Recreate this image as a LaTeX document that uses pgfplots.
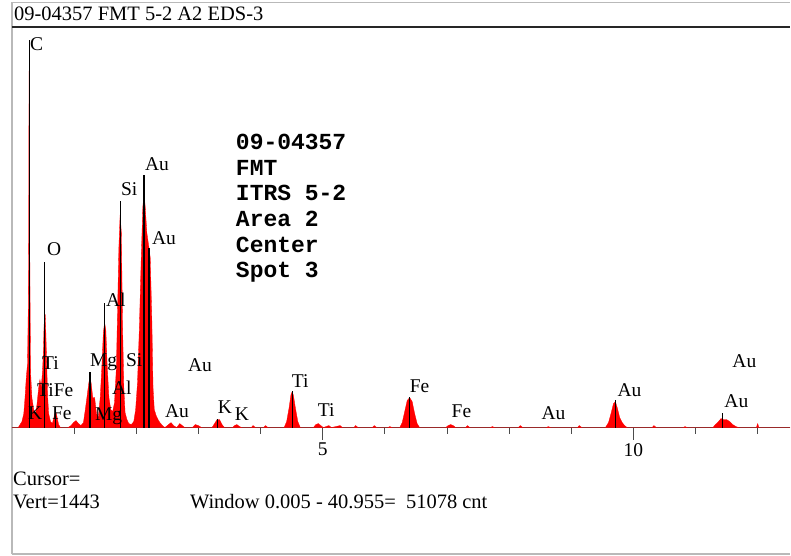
\documentclass[border=0pt]{standalone}
\usepackage{pgfplots}
\pgfplotsset{compat=1.18}
\usepackage{fontspec}
\setmainfont{Liberation Serif}
\newfontfamily\mono{Liberation Mono}
\newcommand\lab[3]{\node[anchor=base west,inner sep=0pt] at (#1,556-#2) {#3};}
\begin{document}
\begin{tikzpicture}[x=1pt,y=1pt]
\path (0,0) rectangle (791,556);
% frame
\draw[gray!55, line width=1.2pt] (12,1) -- (12,553.5) -- (791,553.5);
\draw[black!85, line width=1.6pt] (12,529) -- (791,529);
\draw[gray!55, line width=1.2pt] (12,1.5) -- (791,1.5);
\node[anchor=base west,inner sep=0pt] at (14,556-21) {\fontsize{20.5}{22}\selectfont 09-04357 FMT 5-2 A2 EDS-3};
% text block
\begingroup\mono\bfseries\fontsize{23}{25.8}\selectfont
\lab{236}{150}{09-04357}
\lab{236}{176}{FMT}
\lab{236}{201}{ITRS 5-2}
\lab{236}{227}{Area 2}
\lab{236}{253}{Center}
\lab{236}{278}{Spot 3}
\endgroup
% bottom text
\begingroup\fontsize{20.5}{22}\selectfont
\lab{13}{486}{Cursor=}
\lab{13}{509}{Vert=1443}
\lab{190}{509}{Window 0.005 - 40.955=\ \ 51078 cnt}
\endgroup
\begin{axis}[at={(12pt,128pt)}, anchor=origin, scale only axis,
  width=779pt, height=401pt, xmin=0, xmax=12.524, ymin=0, ymax=401,
  axis x line=bottom, axis y line=none,
  x axis line style={-, black!70, line width=1pt},
  xtick={1,2,3,4,6,7,8,9,11,12}, xticklabels={},
  extra x ticks={5,10}, extra x tick labels={5,10},
  extra x tick style={major tick length=12pt},
  tick align=outside, major tick length=6pt,
  tick style={black!70, line width=0.8pt},
  ytick=\empty,
  tick label style={font=\fontsize{19.5}{21}\selectfont},
  clip=false]
\addplot[fill=red, draw=red, line width=0.3pt] coordinates {
(0,0) (0.10,0) (0.13,3) (0.16,6) (0.19,14) (0.21,30) (0.23,50) (0.25,64)
(0.262,120) (0.268,180) (0.272,300) (0.277,368) (0.282,300) (0.286,180)
(0.292,120) (0.30,55) (0.32,30) (0.35,18) (0.38,14) (0.40,22) (0.43,40)
(0.45,48) (0.47,40) (0.49,55) (0.505,75) (0.515,100) (0.525,114) (0.535,113)
(0.545,95) (0.56,60) (0.575,30) (0.59,14) (0.62,6) (0.65,4) (0.67,9)
(0.69,14) (0.71,15) (0.73,9) (0.75,3) (0.78,0) (0.90,0) (0.95,2) (0.99,5)
(1.03,7) (1.07,4) (1.11,2) (1.15,5) (1.18,18) (1.21,32) (1.235,44) (1.255,51)
(1.275,44) (1.30,30) (1.33,30) (1.36,14) (1.39,10) (1.42,30) (1.45,65)
(1.47,95) (1.49,105) (1.51,98) (1.53,65) (1.56,30) (1.59,18) (1.62,16)
(1.65,25) (1.68,60) (1.70,120) (1.72,180) (1.74,213) (1.76,195) (1.78,100)
(1.80,40) (1.82,15) (1.85,8) (1.88,4) (1.92,3) (1.96,6) (1.99,18) (2.02,45)
(2.05,100) (2.08,170) (2.105,220) (2.125,235) (2.145,220) (2.17,195)
(2.20,182) (2.225,170) (2.25,110) (2.27,40) (2.29,18) (2.32,12) (2.35,8)
(2.38,5) (2.42,2) (2.46,0) (2.52,3) (2.56,5) (2.60,2) (2.65,0) (2.70,4)
(2.74,2) (2.78,0) (2.90,0) (2.95,3) (3.00,2) (3.05,0) (3.22,0) (3.26,4)
(3.30,8) (3.34,8) (3.38,3) (3.42,0) (3.55,0) (3.58,2) (3.62,3) (3.66,1)
(3.70,0) (3.85,0) (3.88,2) (3.92,0) (4.05,0) (4.08,2) (4.12,0) (4.38,0)
(4.42,6) (4.46,20) (4.49,33) (4.51,36) (4.53,32) (4.56,20) (4.60,6) (4.64,0)
(4.85,0) (4.89,3) (4.93,4) (4.97,2) (5.01,0) (5.10,2) (5.14,0) (5.28,2)
(5.32,0) (5.50,0) (5.53,2) (5.57,0) (5.80,0) (5.83,2) (5.87,0) (6.05,0)
(6.08,1) (6.12,0) (6.24,0) (6.28,5) (6.32,16) (6.36,27) (6.40,30) (6.44,26)
(6.48,14) (6.52,4) (6.56,0) (6.98,0) (7.02,2) (7.06,3) (7.10,2) (7.14,0)
(7.30,0) (7.33,2) (7.37,0) (7.70,0) (7.73,1) (7.77,0) (8.15,0) (8.18,2)
(8.22,0) (8.60,0) (8.63,1) (8.67,0) (9.10,0) (9.13,2) (9.17,0) (9.55,0)
(9.60,5) (9.64,14) (9.68,24) (9.71,26) (9.74,20) (9.78,10) (9.82,5)
(9.86,2) (9.90,0) (10.30,0) (10.33,2) (10.37,0) (10.80,0) (10.83,1)
(10.87,0) (11.28,0) (11.32,3) (11.37,6) (11.41,9) (11.45,8) (11.50,8)
(11.55,6) (11.60,3) (11.65,1) (11.70,0) (11.98,0) (12.0,4) (12.02,0)
(12.524,0)} \closedcycle;
\addplot[ycomb, black, line width=1.2pt] coordinates {
(0.277,388) (0.525,166) (0.705,15) (1.254,56) (1.487,125) (1.740,227)
(2.123,253) (2.205,180) (3.31,9) (4.51,37) (6.40,31) (9.71,28) (11.44,15)};
\end{axis}
% peak labels (on top of spectrum)
\begingroup\fontsize{19.5}{21}\selectfont
\lab{30}{51}{C}
\lab{47}{256}{O}
\lab{121}{196}{Si}
\lab{145}{171}{Au}
\lab{152}{245}{Au}
\lab{106}{307}{Al}
\lab{42}{370}{Ti}
\lab{90}{367}{Mg}
\lab{126}{367}{Si}
\lab{188}{372}{Au}
\lab{37}{397}{TiFe}
\lab{112}{395}{Al}
\lab{28}{420}{K}
\lab{52}{420}{Fe}
\lab{95}{421}{Mg}
\lab{165}{418}{Au}
\lab{218}{414}{K}
\lab{235}{421}{K}
\lab{292}{388}{Ti}
\lab{318}{417}{Ti}
\lab{410}{393}{Fe}
\lab{452}{418}{Fe}
\lab{542}{420}{Au}
\lab{618}{397}{Au}
\lab{733}{368}{Au}
\lab{725}{408}{Au}
\endgroup
\end{tikzpicture}
\end{document}
